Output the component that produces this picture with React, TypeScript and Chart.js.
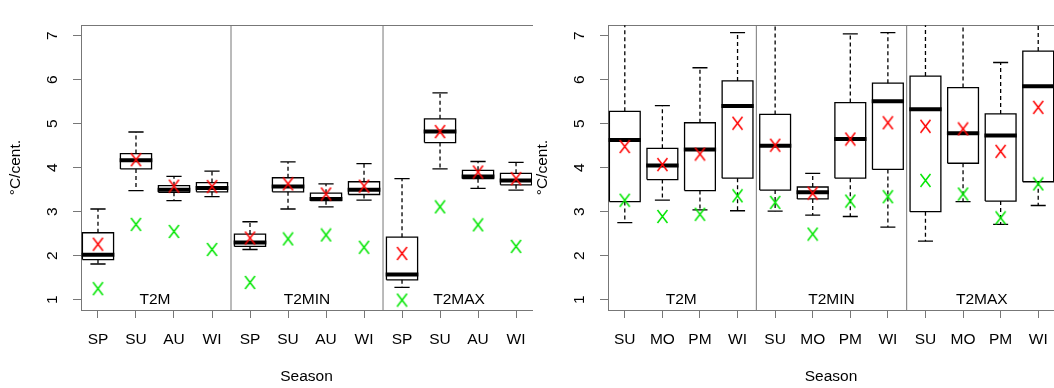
import React, { useEffect, useRef } from 'react';
import { Chart, registerables } from 'chart.js';

Chart.register(...registerables);

const variables = ['T2M', 'T2MIN', 'T2MAX'];
const leftSeasons = ['SP', 'SU', 'AU', 'WI'];
const rightSeasons = ['SU', 'MO', 'PM', 'WI'];
const yTickValues = [1, 2, 3, 4, 5, 6, 7];

// Left panel (order: T2M SP SU AU WI, T2MIN SP SU AU WI, T2MAX SP SU AU WI)
const leftLow = [1.81, 3.48, 3.25, 3.34, 2.14, 3.06, 3.11, 3.26, 1.28, 3.97, 3.53, 3.49];
const leftQ1 = [1.91, 3.97, 3.44, 3.45, 2.21, 3.45, 3.25, 3.39, 1.45, 4.57, 3.75, 3.61];
const leftMedian = [2.02, 4.17, 3.5, 3.54, 2.3, 3.57, 3.29, 3.5, 1.57, 4.82, 3.8, 3.71];
const leftQ3 = [2.52, 4.32, 3.59, 3.66, 2.49, 3.77, 3.42, 3.68, 2.42, 5.11, 3.94, 3.87];
const leftHigh = [3.06, 4.81, 3.8, 3.92, 2.77, 4.13, 3.63, 4.09, 3.75, 5.7, 4.14, 4.12];
const leftMean = [2.26, 4.18, 3.58, 3.57, 2.4, 3.63, 3.4, 3.58, 2.05, 4.82, 3.9, 3.75];
const leftGreen = [1.25, 2.71, 2.55, 2.14, 1.39, 2.38, 2.47, 2.19, 0.99, 3.11, 2.7, 2.21];

// Right panel (order: T2M SU MO PM WI, T2MIN SU MO PM WI, T2MAX SU MO PM WI)
const rightLow = [2.75, 3.26, 3.04, 3.02, 3.01, 2.92, 2.89, 2.65, 2.33, 3.23, 2.71, 3.14];
const rightQ1 = [3.23, 3.73, 3.48, 3.76, 3.49, 3.29, 3.76, 3.96, 3.0, 4.1, 3.24, 3.68];
const rightMedian = [4.63, 4.05, 4.41, 5.4, 4.5, 3.44, 4.65, 5.51, 5.33, 4.78, 4.73, 5.85];
const rightQ3 = [5.28, 4.44, 5.02, 5.97, 5.21, 3.56, 5.48, 5.92, 6.08, 5.82, 5.22, 6.65];
const rightHigh = [7.6, 5.41, 6.27, 7.07, 7.6, 3.87, 7.04, 7.07, 7.6, 7.6, 6.39, 7.6];
const rightMean = [4.48, 4.07, 4.31, 5.01, 4.51, 3.42, 4.65, 5.02, 4.94, 4.88, 4.37, 5.37];
const rightGreen = [3.26, 2.89, 2.94, 3.36, 3.21, 2.49, 3.24, 3.34, 3.71, 3.4, 2.86, 3.63];

const FONT = "'Liberation Sans', Arial, Helvetica, sans-serif";
const FONT_SIZE = 15.5;
const X_MIN = 0.553;
const X_MAX = 12.42;
const Y_MIN = 0.765;
const Y_MAX = 7.235;
const BOX_HALF = 0.41;
const CAP_HALF = 0.2;
const AXIS_GRAY = '#777777';

function makeMarker(color: string): HTMLCanvasElement {
  const c = document.createElement('canvas');
  c.width = 13;
  c.height = 15;
  const ctx = c.getContext('2d')!;
  ctx.strokeStyle = color;
  ctx.lineWidth = 1.5;
  ctx.beginPath();
  ctx.moveTo(1.5, 1);
  ctx.lineTo(11.5, 14);
  ctx.moveTo(11.5, 1);
  ctx.lineTo(1.5, 14);
  ctx.stroke();
  return c;
}

const groupLabelPlugin = {
  id: 'groupLabels',
  beforeDatasetsDraw(chart: any) {
    const { ctx, scales } = chart;
    const x = scales.x;
    const y = scales.y;
    ctx.save();
    ctx.font = `${FONT_SIZE}px ${FONT}`;
    ctx.fillStyle = '#000';
    ctx.textAlign = 'center';
    ctx.textBaseline = 'middle';
    variables.forEach((v, g) => {
      ctx.fillText(v, x.getPixelForValue(g * 4 + 2.5), y.getPixelForValue(1) + 0.5);
    });
    ctx.restore();
  },
};

function makeConfig(
  seasons: string[],
  low: number[],
  q1: number[],
  med: number[],
  q3: number[],
  high: number[],
  mean: number[],
  green: number[],
  padRight: number,
  redMarker: HTMLCanvasElement,
  greenMarker: HTMLCanvasElement
): any {
  const labels = variables.flatMap(() => seasons);
  const pos = labels.map((_, i) => i + 1);
  const gap = (x: number) => ({ x, y: null as any });
  const boxes: any[] = [];
  const whiskers: any[] = [];
  const caps: any[] = [];
  const medians: any[] = [];
  pos.forEach((x, i) => {
    boxes.push(
      { x: x - BOX_HALF, y: q1[i] },
      { x: x + BOX_HALF, y: q1[i] },
      { x: x + BOX_HALF, y: q3[i] },
      { x: x - BOX_HALF, y: q3[i] },
      { x: x - BOX_HALF, y: q1[i] },
      gap(x)
    );
    whiskers.push({ x, y: q3[i] }, { x, y: high[i] }, gap(x), { x, y: q1[i] }, { x, y: low[i] }, gap(x));
    caps.push(
      { x: x - CAP_HALF, y: high[i] },
      { x: x + CAP_HALF, y: high[i] },
      gap(x),
      { x: x - CAP_HALF, y: low[i] },
      { x: x + CAP_HALF, y: low[i] },
      gap(x)
    );
    medians.push({ x: x - BOX_HALF - 0.02, y: med[i] }, { x: x + BOX_HALF + 0.02, y: med[i] }, gap(x));
  });
  const separators = [
    { x: 4.5, y: Y_MIN },
    { x: 4.5, y: Y_MAX },
    gap(4.5),
    { x: 8.5, y: Y_MIN },
    { x: 8.5, y: Y_MAX },
  ];
  const lineBase = {
    showLine: true,
    spanGaps: false,
    pointRadius: 0,
    pointHoverRadius: 0,
    fill: false,
    tension: 0,
    clip: 0,
  };
  const font = { family: FONT, size: FONT_SIZE };
  return {
    type: 'scatter',
    data: {
      datasets: [
        {
          ...lineBase,
          label: 'mean',
          data: pos.map((x, i) => ({ x, y: mean[i] })),
          showLine: false,
          pointStyle: redMarker,
          pointRadius: 7,
          order: 1,
        },
        {
          ...lineBase,
          label: 'green',
          data: pos.map((x, i) => ({ x, y: green[i] })),
          showLine: false,
          pointStyle: greenMarker,
          pointRadius: 7,
          order: 1,
        },
        { ...lineBase, label: 'median', data: medians, borderColor: '#000', borderWidth: 4, borderCapStyle: 'butt', order: 2 },
        { ...lineBase, label: 'box', data: boxes, borderColor: '#000', borderWidth: 1.3, borderJoinStyle: 'miter', order: 3 },
        { ...lineBase, label: 'caps', data: caps, borderColor: '#000', borderWidth: 1.3, order: 3 },
        { ...lineBase, label: 'whiskers', data: whiskers, borderColor: '#000', borderWidth: 1.3, borderDash: [4, 3], order: 3 },
        { ...lineBase, label: 'sep', data: separators, borderColor: AXIS_GRAY, borderWidth: 1, order: 10 },
      ],
    },
    options: {
      responsive: false,
      animation: false,
      events: [],
      layout: { padding: { top: 7, right: padRight, left: 0, bottom: 0 } },
      plugins: { legend: { display: false }, tooltip: { enabled: false } },
      scales: {
        x: {
          type: 'linear',
          position: 'bottom',
          min: X_MIN,
          max: X_MAX,
          afterBuildTicks: (s: any) => {
            s.ticks = pos.map((v) => ({ value: v }));
          },
          afterFit: (s: any) => {
            s.height = 78;
          },
          ticks: {
            autoSkip: false,
            minRotation: 0,
            maxRotation: 0,
            padding: 12,
            color: '#000',
            font,
            callback: (v: any) => labels[Math.round(Number(v)) - 1] ?? '',
          },
          grid: { drawOnChartArea: false, drawTicks: true, tickLength: 8, color: AXIS_GRAY, lineWidth: 1 },
          border: { display: true, color: AXIS_GRAY, width: 1 },
          title: { display: true, text: 'Season', color: '#000', font, padding: { top: 0, bottom: 2 } },
        },
        xTop: {
          type: 'linear',
          position: 'top',
          min: X_MIN,
          max: X_MAX,
          afterFit: (s: any) => {
            s.height = 0;
          },
          ticks: { display: false },
          grid: { drawOnChartArea: false, drawTicks: false },
          border: { display: true, color: AXIS_GRAY, width: 1 },
        },
        y: {
          type: 'linear',
          position: 'left',
          min: Y_MIN,
          max: Y_MAX,
          afterBuildTicks: (s: any) => {
            s.ticks = yTickValues.map((v) => ({ value: v }));
          },
          afterFit: (s: any) => {
            s.width = 81;
          },
          ticks: {
            minRotation: 90,
            maxRotation: 90,
            crossAlign: 'center',
            padding: 16,
            color: '#000',
            font,
            callback: (v: any) => String(v),
          },
          grid: { drawOnChartArea: false, drawTicks: true, tickLength: 8, color: AXIS_GRAY, lineWidth: 1 },
          border: { display: true, color: AXIS_GRAY, width: 1 },
          title: { display: true, text: '°C/cent.', color: '#000', font, padding: { top: 6, bottom: 0 } },
        },
      },
    },
    plugins: [groupLabelPlugin],
  };
}

export default function App() {
  const leftRef = useRef<HTMLCanvasElement>(null);
  const rightRef = useRef<HTMLCanvasElement>(null);

  useEffect(() => {
    const red = makeMarker('#ff0000');
    const green = makeMarker('#00e600');
    const left = new Chart(
      leftRef.current!,
      makeConfig(leftSeasons, leftLow, leftQ1, leftMedian, leftQ3, leftHigh, leftMean, leftGreen, 8, red, green)
    );
    const right = new Chart(
      rightRef.current!,
      makeConfig(rightSeasons, rightLow, rightQ1, rightMedian, rightQ3, rightHigh, rightMean, rightGreen, 4, red, green)
    );
    return () => {
      left.destroy();
      right.destroy();
    };
  }, []);

  return (
    <div
      style={{
        position: 'fixed',
        left: 0,
        top: 0,
        width: 1054,
        height: 388,
        overflow: 'hidden',
        background: '#fff',
      }}
    >
      <canvas ref={leftRef} width={540} height={388} style={{ position: 'absolute', left: 0, top: 0 }} />
      <canvas ref={rightRef} width={535} height={388} style={{ position: 'absolute', left: 527, top: 0 }} />
    </div>
  );
}
